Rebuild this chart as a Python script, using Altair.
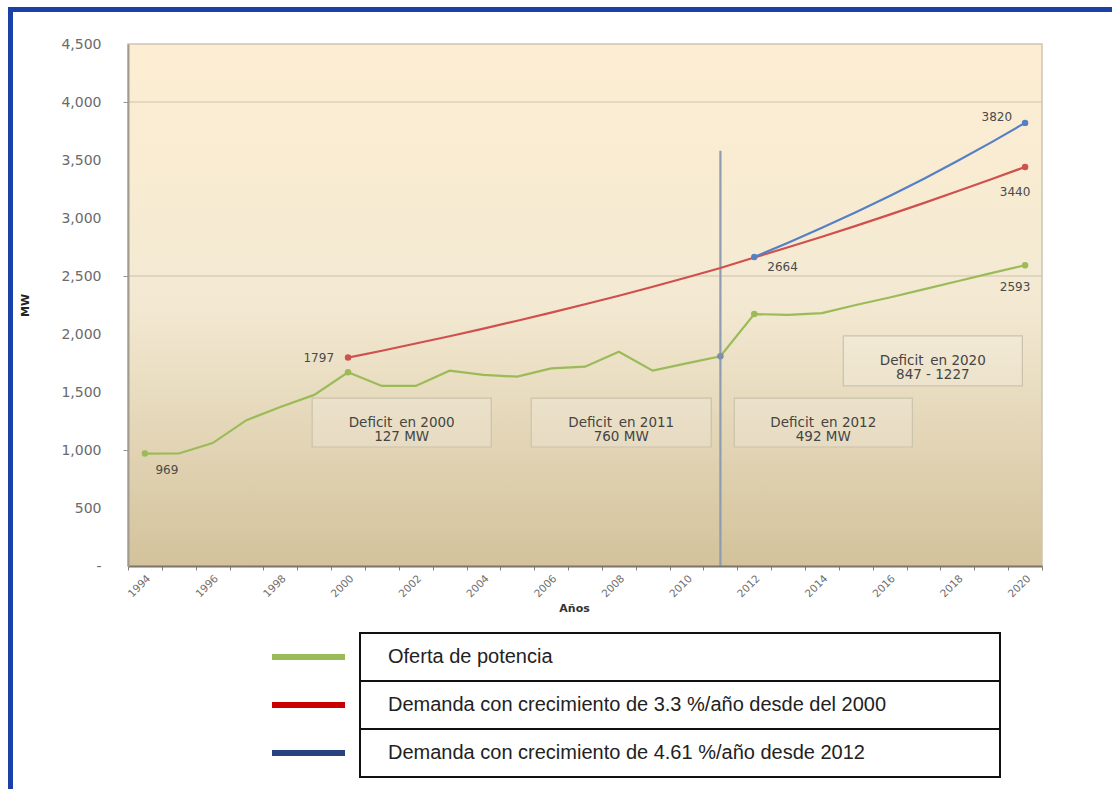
import altair as alt
import pandas as pd

# ---- data -------------------------------------------------------------
years = list(range(1994, 2021))
oferta = [969, 970, 1060, 1257, 1370, 1475, 1670, 1552, 1552, 1684, 1647, 1632,
          1704, 1718, 1847, 1684, 1747, 1808, 2172, 2165, 2180, 2250, 2315, 2385,
          2455, 2525, 2593]

dem33_years = list(range(2000, 2021))
dem33 = [1797, 1856, 1918, 1981, 2046, 2114, 2184, 2256, 2330, 2407, 2487, 2569,
         2660, 2748, 2838, 2932, 3029, 3128, 3231, 3334, 3440]

dem461_years = list(range(2012, 2021))
dem461 = [2664, 2787, 2915, 3050, 3190, 3337, 3491, 3652, 3820]

series_names = [
    "Oferta de potencia",
    "Demanda con crecimiento de 3.3 %/año desde del 2000",
    "Demanda con crecimiento de 4.61 %/año desde 2012",
]
line_colors = ["#9bbb59", "#d0504d", "#5580c4"]
legend_colors = ["#9bbb59", "#c80000", "#27427f"]

cut_year = 2011
cut_top = 3580

deficit_texts = ["Deficit\u2002en 2000\n127 MW", "Deficit\u2002en 2011\n760 MW",
                 "Deficit\u2002en 2012\n492 MW", "Deficit\u2002en 2020\n847 - 1227"]

# ---- layout / style ---------------------------------------------------
W, H = 914, 522
FONT = "DejaVu Sans"

# box extents for the deficit notes (years, MW)
note_boxes = [
    (1998.94, 2004.23, 1026, 1448),
    (2005.41, 2010.73, 1026, 1448),
    (2011.41, 2016.67, 1026, 1448),
    (2014.63, 2019.92, 1552, 1983),
]

series_data = {
    0: dict(zip(years, oferta)),
    1: dict(zip(dem33_years, dem33)),
    2: dict(zip(dem461_years, dem461)),
}

rows = []
for i, name in enumerate(series_names):
    for yr, v in series_data[i].items():
        rows.append({"series": name, "year": yr, "mw": v})
lines_df = pd.DataFrame(rows)

marker_spec = [(0, 1994), (0, 2000), (0, 2012), (0, 2020),
               (1, 2000), (1, 2020), (2, 2012), (2, 2020)]
markers_df = pd.DataFrame([
    {"year": yr, "mw": series_data[i][yr], "c": line_colors[i]} for i, yr in marker_spec
] + [{"year": cut_year, "mw": series_data[0][cut_year], "c": "#7d8ea8"}])

# (series, year, dx, dy, align)
label_spec = [
    (0, 1994, 22, 16, "center"),
    (1, 2000, -14, 0, "right"),
    (2, 2012, 13, 10, "left"),
    (2, 2020, -13, -6, "right"),
    (1, 2020, -10, 25, "center"),
    (0, 2020, -10, 22, "center"),
]

x_scale = alt.Scale(domain=[1993.5, 2020.5], nice=False, zero=False)
y_scale = alt.Scale(domain=[0, 4500], nice=False)

x_axis = alt.Axis(
    title="Años",
    values=[1993.5 + 0.5 * k for k in range(55)],
    labelExpr="datum.value % 2 === 0 ? '' + datum.value : ''",
    labelAngle=315,
    labelFont=FONT,
    labelFontSize=10.5,
    labelColor="#6e6e6e",
    labelOverlap=False,
    labelPadding=3,
    tickOpacity={"condition": {"test": "datum.value % 1 === 0", "value": 0}, "value": 1},
    tickColor="#8a8478",
    tickSize=4,
    domainColor="#7a746a",
    domainWidth=2,
    grid=False,
    titleFont=FONT,
    titleFontSize=11,
    titleFontWeight="bold",
    titleColor="#333333",
    titleY=42,
    titleX=446,
    titleBaseline="middle",
    zindex=1,
)

y_axis = alt.Axis(
    title="MW",
    values=list(range(0, 4501, 500)),
    labelExpr="datum.value == 0 ? '-' : format(datum.value, ',')",
    labelFont=FONT,
    labelFontSize=14,
    labelColor="#6a6a6a",
    labelPadding=22,
    tickOpacity={"condition": {"test": "(datum.value - 1000) % 1500 === 0", "value": 1}, "value": 0},
    tickColor="#9a9488",
    tickSize=5,
    domainColor="#a29c90",
    domainWidth=2,
    grid=False,
    titleFont=FONT,
    titleFontSize=11,
    titleFontWeight="bold",
    titleColor="#222222",
    titleAngle=270,
    titleX=-98,
    titleY=261,
    titleBaseline="bottom",
    zindex=1,
)


def xq(field):
    return alt.X(f"{field}:Q", scale=x_scale, axis=x_axis)


def yq(field):
    return alt.Y(f"{field}:Q", scale=y_scale, axis=y_axis)


one = alt.Data(values=[{}])

# plot background
background = alt.Chart(one).mark_rect(
    fill=alt.Gradient(
        gradient="linear",
        stops=[alt.GradientStop(offset=0, color="#fdeed3"),
               alt.GradientStop(offset=0.5, color="#f3e9d2"),
               alt.GradientStop(offset=1, color="#d3c29b")],
        x1=0, x2=0, y1=0, y2=1,
    )
).encode(x=alt.value(0), x2=alt.value(W), y=alt.value(0), y2=alt.value(H))

plot_border = alt.Chart(one).mark_rect(
    fillOpacity=0, stroke="#cdc5b3", strokeWidth=1.5
).encode(x=alt.value(0), x2=alt.value(W), y=alt.value(0), y2=alt.value(H))

grid_df = pd.DataFrame({"mw": [2500, 4000]})
gridlines = alt.Chart(grid_df).mark_rule(color="#8c8270", opacity=0.25, strokeWidth=1.5).encode(
    y=yq("mw"), x=alt.value(0), x2=alt.value(W)
)

notes_df = pd.DataFrame([
    {"x0": b[0], "x1": b[1], "y0": b[2], "y1": b[3],
     "xc": (b[0] + b[1]) / 2, "yc": (b[2] + b[3]) / 2, "txt": t}
    for b, t in zip(note_boxes, deficit_texts)
])
note_rects = alt.Chart(notes_df).mark_rect(
    fill="#ffffff", fillOpacity=0.18, stroke="#cbc2ad", strokeWidth=1.2
).encode(x=xq("x0"), x2="x1", y=yq("y0"), y2="y1")
note_texts = alt.Chart(notes_df).mark_text(
    font=FONT, fontSize=13.5, color="#444444", lineBreak="\n", lineHeight=14,
    align="center", baseline="middle"
).encode(x=xq("xc"), y=yq("yc"), text="txt:N")

cut_df = pd.DataFrame({"year": [cut_year], "y0": [0], "y1": [cut_top]})
cut_rule = alt.Chart(cut_df).mark_rule(color="#8d9cae", strokeWidth=2.2).encode(
    x=xq("year"), y=yq("y0"), y2="y1"
)

lines = alt.Chart(lines_df).mark_line(strokeWidth=2.2).encode(
    x=xq("year"), y=yq("mw"),
    color=alt.Color("series:N", scale=alt.Scale(domain=series_names, range=line_colors), legend=None),
)

points = alt.Chart(markers_df).mark_circle(size=42, opacity=1).encode(
    x=xq("year"), y=yq("mw"), color=alt.Color("c:N", scale=None)
)

label_layers = []
for i, yr, dx, dy, al in label_spec:
    df = pd.DataFrame({"year": [yr], "mw": [series_data[i][yr]]})
    label_layers.append(
        alt.Chart(df).mark_text(font=FONT, fontSize=12, color="#4a4a4a", dx=dx, dy=dy,
                                align=al, baseline="middle")
        .encode(x=xq("year"), y=yq("mw"), text=alt.Text("mw:Q", format="d"))
    )

# legend table below the plot
legend_layers = []
row_top, row_h = 589, 48
for k, (name, col) in enumerate(zip(series_names, legend_colors)):
    top = row_top + k * row_h
    mid = top + row_h / 2
    legend_layers.append(
        alt.Chart(one).mark_rect(fill="white", stroke="#111111", strokeWidth=2).encode(
            x=alt.value(232), x2=alt.value(872), y=alt.value(top), y2=alt.value(top + row_h))
    )
    legend_layers.append(
        alt.Chart(one).mark_rule(color=col, strokeWidth=6).encode(
            x=alt.value(144), x2=alt.value(217), y=alt.value(mid))
    )
    legend_layers.append(
        alt.Chart(one).mark_text(font="Liberation Sans", fontSize=20,
                                 color="#222222", align="left", baseline="middle").encode(
            x=alt.value(260), y=alt.value(mid), text=alt.value(name))
    )

# blue page frame (top and left)
frame_top = alt.Chart(one).mark_rule(color="#1b40a6", strokeWidth=5).encode(
    x=alt.value(-120), x2=alt.value(990), y=alt.value(-34.5))
frame_left = alt.Chart(one).mark_rule(color="#1b40a6", strokeWidth=5).encode(
    x=alt.value(-117.5), y=alt.value(-37), y2=alt.value(750))

chart = alt.layer(
    background, gridlines, plot_border, note_rects, note_texts, cut_rule, lines, points,
    *label_layers, *legend_layers, frame_top, frame_left,
).properties(
    width=W, height=H,
    autosize=alt.AutoSizeParams(type="none"),
    padding={"left": 128, "top": 44, "right": 70, "bottom": 223},
    background="white",
).configure_view(stroke=None)

chart.save("out.html", embed_options={"renderer": "svg", "actions": False})
